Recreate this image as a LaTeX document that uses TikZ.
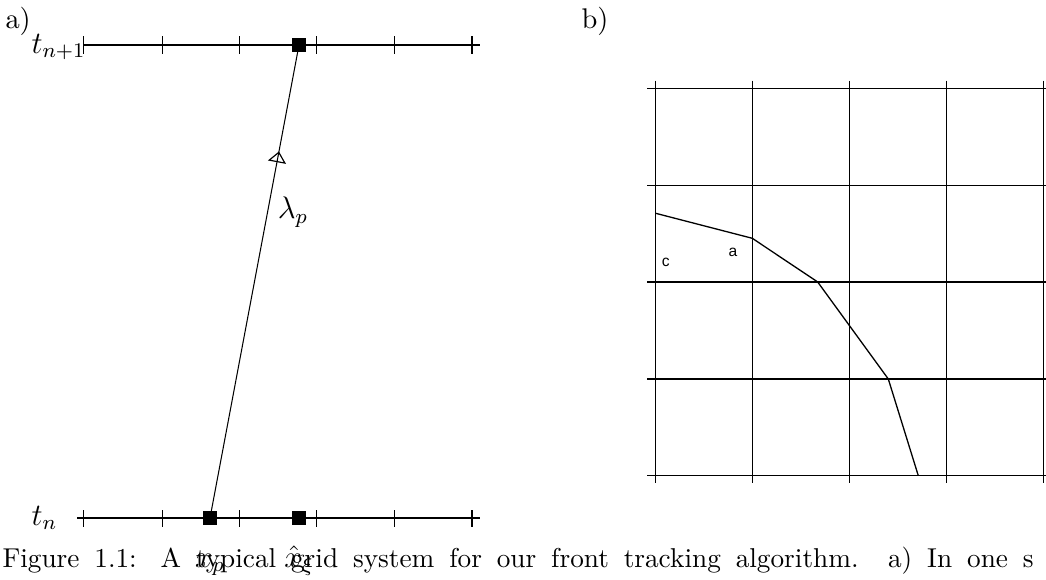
\documentclass[tikz,border=0pt]{standalone}
\usepackage{fontspec}
\newfontfamily\helv{Liberation Sans}
\usetikzlibrary{arrows.meta,decorations.markings}
\tikzset{
  thinline/.style={line width=0.4pt},
  gridline/.style={line width=0.5pt},
  sq/.style={fill=black, minimum size=5.4pt, inner sep=0pt, draw=none},
  mathlbl/.style={font=\fontsize{12}{14}\selectfont, inner sep=0pt},
  txtlbl/.style={font=\fontsize{10.95}{13}\selectfont, inner sep=0pt},
  caplbl/.style={font=\fontsize{10.5}{13}\selectfont, inner sep=0pt},
  smalllbl/.style={font=\helv\fontsize{6}{7}\selectfont, inner sep=0pt},
  tick/.style={line width=0.4pt}
}
\begin{document}
\begin{tikzpicture}[x=0.385pt,y=-0.385pt]
\useasboundingbox (0,0) rectangle (1046,579);
% ---------- panel a ----------
\draw[thinline] (83,45) -- (480,45);
\draw[thinline] (77,518) -- (480,518);
\foreach \x in {83.3,162.3,239.3,316.7,394.3,472}{
  \draw[tick] (\x,36) -- (\x,54);
  \draw[tick] (\x,510) -- (\x,527);
}
\node[sq] (tq) at (299,45) {};
\node[sq] (bp) at (210,518) {};
\node[sq] (bx) at (299,518) {};
\draw[thinline, postaction={decorate}, decoration={markings,
  mark=at position 0.775 with {\arrow[line width=0.45pt]{Triangle[open,width=7pt,length=4.2pt]}}}]
  (bp.center) -- (tq.center);
\node[mathlbl] (lam) at (293,212) {$\lambda_p$};
\node[mathlbl, anchor=base west] (tn1) at (31,53) {$t_{n+1}$};
\node[mathlbl, anchor=base west] (tn) at (31,525) {$t_n$};
\node[mathlbl, anchor=base] (xp) at (210,567) {$x_p$};
\node[mathlbl, anchor=base] (xh) at (299,567) {$\hat{x}_\xi$};
\node[txtlbl, anchor=base west] (la) at (5,28) {a)};
\node[txtlbl, anchor=base west] (lb) at (581,28) {b)};
% ---------- panel b ----------
\foreach \x in {655.7,752.3,849.3,946.3,1043.3}
  \draw[gridline] (\x,80.7) -- (\x,483);
\foreach \y in {88.3,185.3,282,379,475.7}
  \draw[gridline] (647.3,\y) -- (1052,\y);
\draw[gridline] (655.7,213.3) -- (752.3,238.3) -- (817.7,282) -- (888.3,379) -- (918.3,475.7);
\node[smalllbl] (lc) at (665.7,262) {c};
\node[smalllbl] (lA) at (733,252.5) {a};
% ---------- caption ----------
\node[caplbl, anchor=base west] (cap) at (2,567)
  {\makebox[397pt][s]{Figure 1.1: A typical grid system for our front tracking algorithm. a) In one s}};
\end{tikzpicture}
\end{document}
